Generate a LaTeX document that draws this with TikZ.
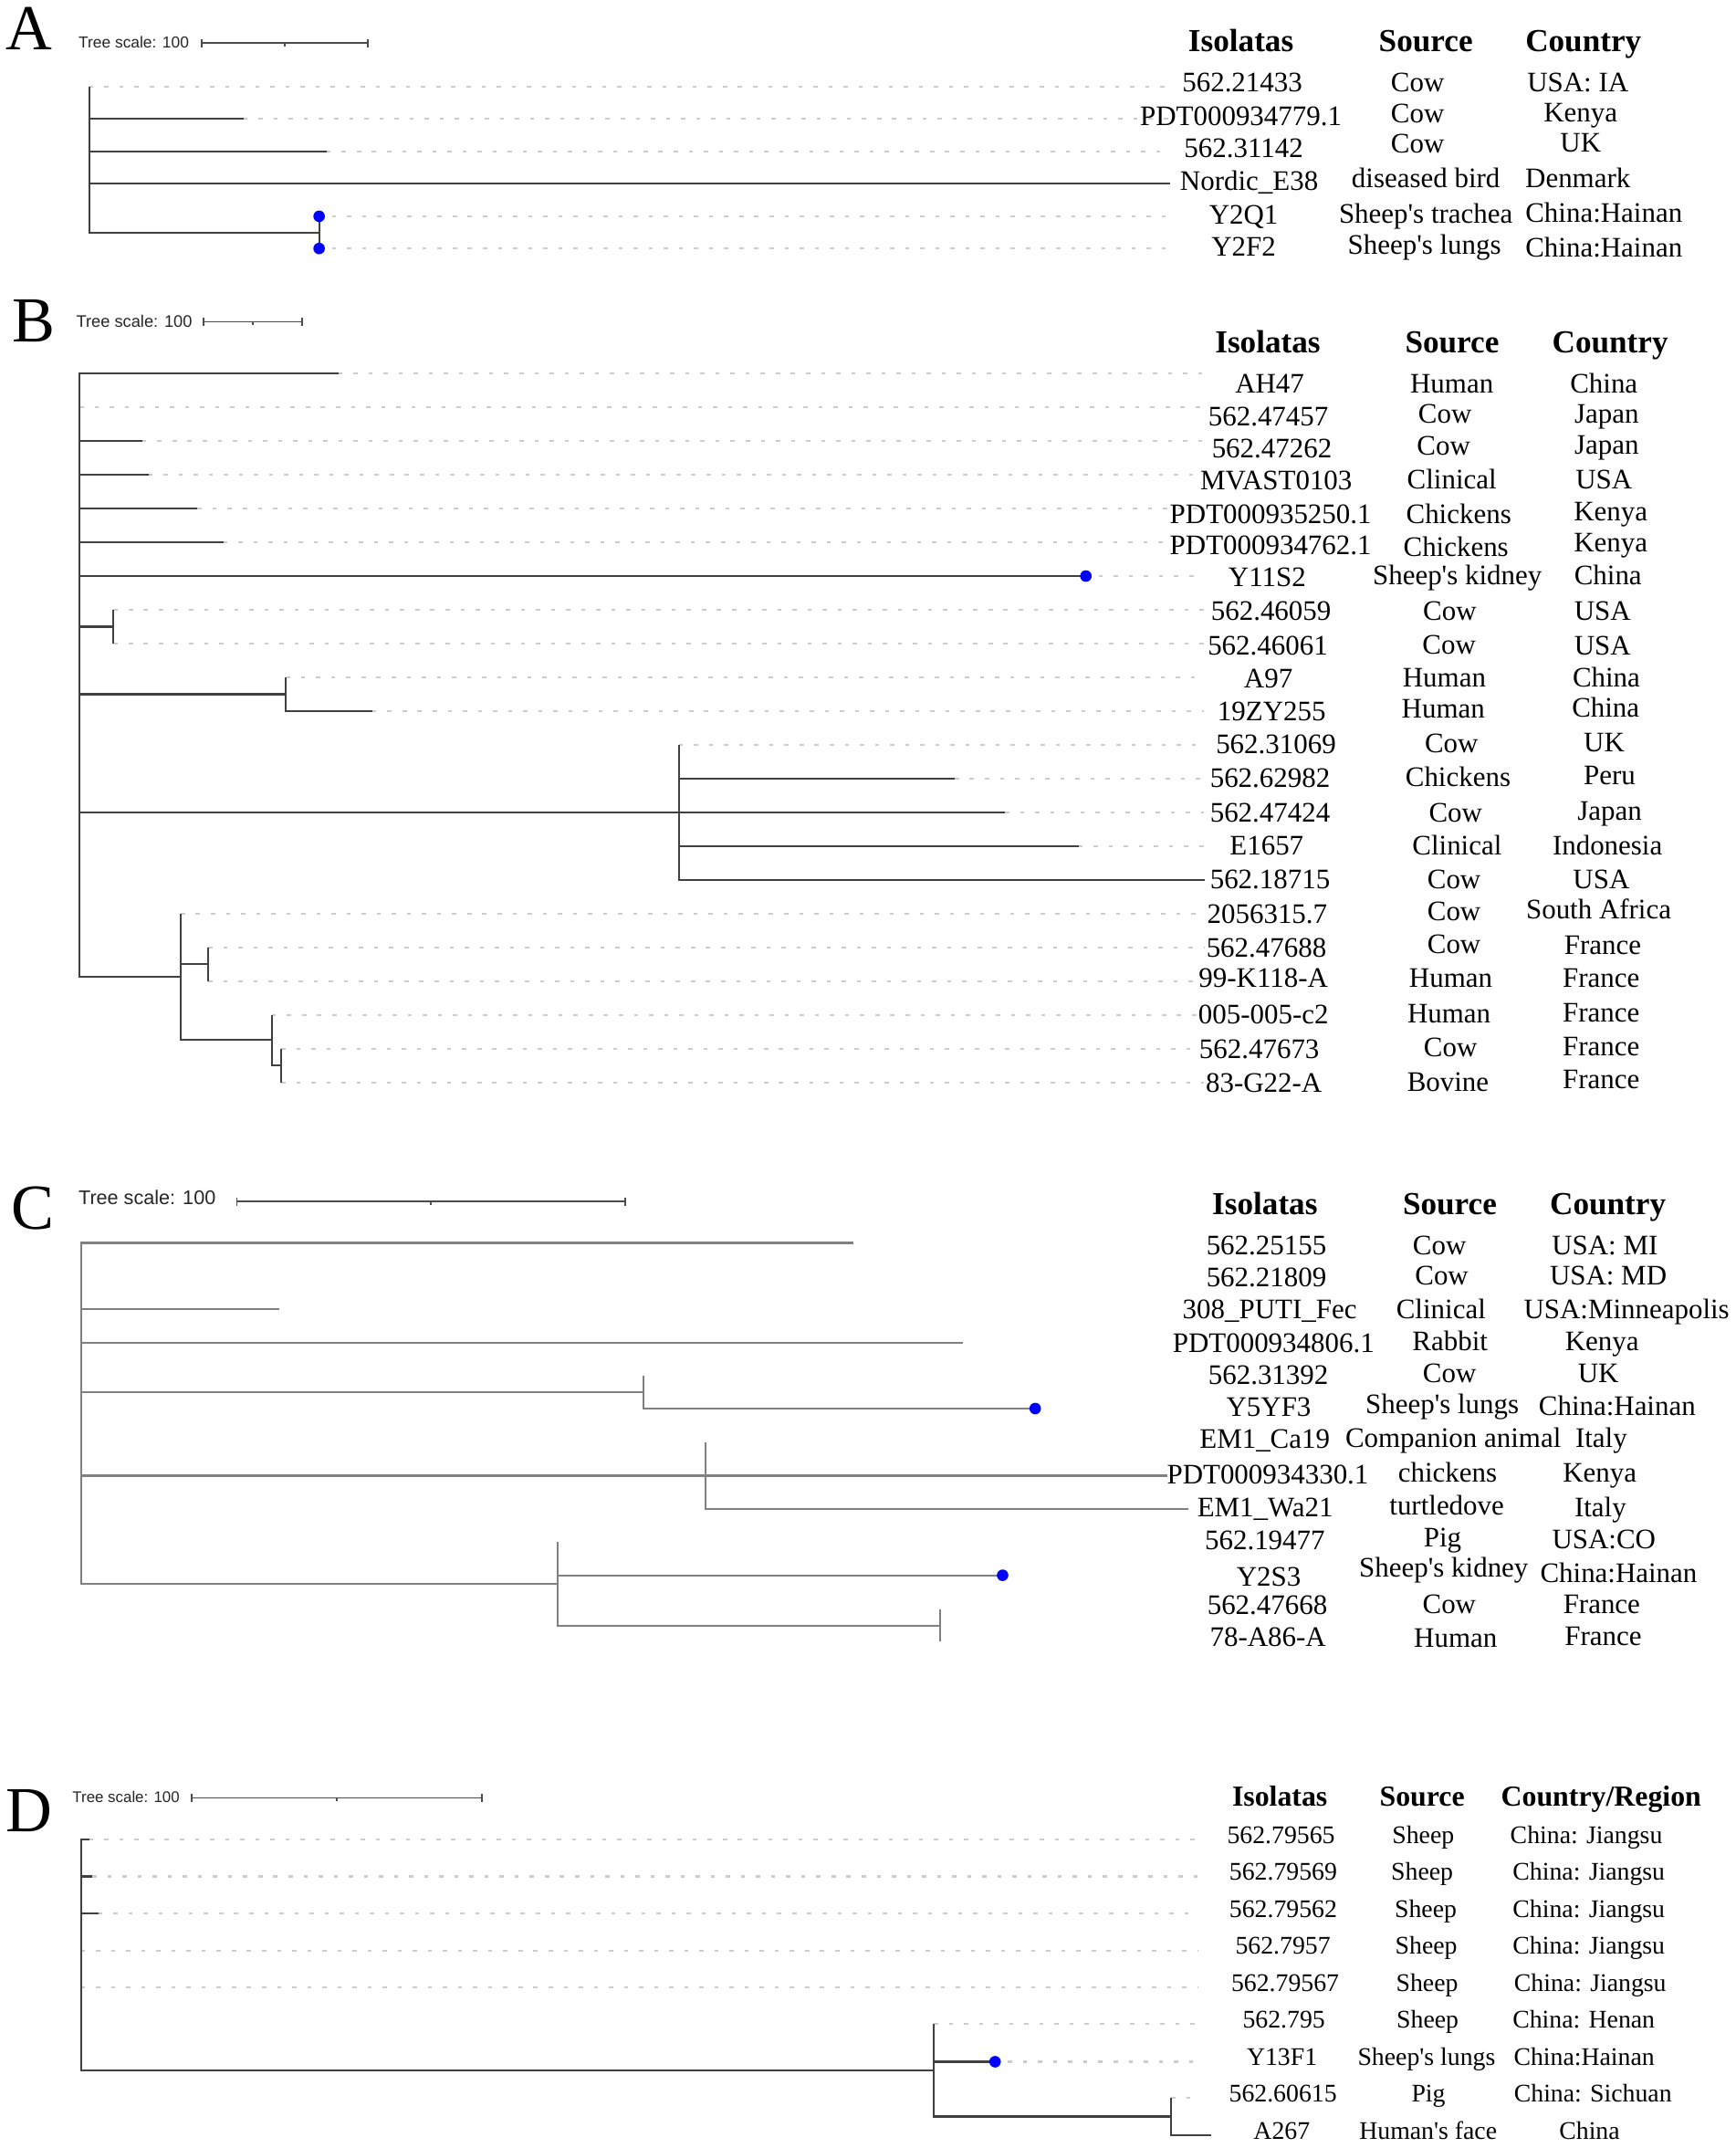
\documentclass[tikz,border=0pt]{standalone}
\usepackage{fontspec}
\setmainfont{Liberation Serif}
\newfontfamily\barfont{Liberation Sans}
\usetikzlibrary{arrows.meta}
\usetikzlibrary{calc}

\begin{document}
\begin{tikzpicture}[
  x=0.15mm, y=-0.15mm,
  branch/.style={draw=black!75, line width=0.6pt},
  palebranch/.style={draw=black!50, line width=0.6pt},
  guide/.style={draw=black!20, line width=0.6pt, dash pattern=on 1.3pt off 3.4pt},
  tipdot/.style={fill=blue},
  scalebar/.style={draw=black!70, line width=0.5pt, {Bar[width=2.6pt]}-{Bar[width=2.6pt]}},
  scaletick/.style={draw=black!70, line width=0.5pt},
  scaletxt/.style={font=\barfont\fontsize{#1}{#1}\selectfont, text=black!85, inner sep=0pt, anchor=west},
  panel/.style={font=\fontsize{20}{20}\selectfont, inner sep=0pt, anchor=base, yshift=-6.6pt},
  head/.style={font=\fontsize{10}{12}\selectfont\bfseries, inner sep=0pt, anchor=base, yshift=-3.4pt},
  headD/.style={font=\fontsize{9.05}{11}\selectfont\bfseries, inner sep=0pt, anchor=base, yshift=-3.05pt},
  lab/.style={font=\fontsize{8.8}{10}\selectfont, inner sep=0pt, anchor=base, yshift=-2.95pt},
  labD/.style={font=\fontsize{7.9}{9}\selectfont, inner sep=0pt, anchor=base, yshift=-2.65pt}
]
\path[fill=white] (0,0) rectangle (1267,1568);

% ---------------- Panel A
\node[panel] (letA) at (21,21.1) {A};
\node[scaletxt=4.95] (tsA) at (56.9,31.1) {Tree scale: 100};
\coordinate (sbA0) at (146.9,31.5);
\coordinate (sbA1) at (268.9,31.5);
\draw[scalebar] (sbA0) -- (sbA1);
\draw[scaletick] ($(sbA0)!0.5!(sbA1)$) -- ++(0,2.5);

\coordinate (rootA) at (65.2,116);
\coordinate (nodeA) at (233,169.7);
\coordinate (A1) at (65.2,63.3);
\coordinate (A2) at (177.8,86.6);
\coordinate (A3) at (238.5,110.4);
\coordinate (A4) at (854.2,134.1);
\coordinate (A5) at (233,157.9);
\coordinate (A6) at (233,181.4);
\coordinate (endA) at (854,0);
\draw[guide] (A1) -- (A1 -| endA) (A2) -- (A2 -| endA) (A3) -- (A3 -| endA);
\draw[guide] ([xshift=4pt]A5) -- (A5 -| endA) ([xshift=4pt]A6) -- (A6 -| endA);
\draw[branch] (rootA) |- (A1) (rootA) |- (A2) (rootA) |- (A3) (rootA) |- (A4) (rootA) |- (nodeA);
\draw[branch] (nodeA) |- (A5) (nodeA) |- (A6);
\fill[tipdot] (A5) circle (1.8pt) (A6) circle (1.8pt);

\node[head] (hIsoA) at (906,30) {Isolatas};
\node[head] (hSrcA) at (1041,30) {Source};
\node[head] (hCtyA) at (1156,30) {Country};
\node[lab] (isoA1) at (907,60) {562.21433}; \node[lab] (srcA1) at (1035,60) {Cow}; \node[lab] (ctyA1) at (1152,60) {USA: IA};
\node[lab] (isoA2) at (906,84.4) {PDT000934779.1}; \node[lab] (srcA2) at (1035,83) {Cow}; \node[lab] (ctyA2) at (1154,82) {Kenya};
\node[lab] (isoA3) at (908,108.2) {562.31142}; \node[lab] (srcA3) at (1035,105) {Cow}; \node[lab] (ctyA3) at (1154,104) {UK};
\node[lab] (isoA4) at (912,132.1) {Nordic\_E38}; \node[lab] (srcA4) at (1041,130) {diseased bird}; \node[lab] (ctyA4) at (1152,130) {Denmark};
\node[lab] (isoA5) at (908,156.6) {Y2Q1}; \node[lab] (srcA5) at (1041,156) {Sheep\textquotesingle s trachea}; \node[lab] (ctyA5) at (1171,155.5) {China:Hainan};
\node[lab] (isoA6) at (908,179.9) {Y2F2}; \node[lab] (srcA6) at (1040,179) {Sheep\textquotesingle s lungs}; \node[lab] (ctyA6) at (1171,181) {China:Hainan};

% ---------------- Panel B
\node[panel] (letB) at (24.3,234.3) {B};
\node[scaletxt=5.2] (tsB) at (55.2,234.4) {Tree scale: 100};
\coordinate (sbB0) at (148.1,234.9);
\coordinate (sbB1) at (221.0,234.9);
\draw[scalebar] (sbB0) -- (sbB1);
\draw[scaletick] ($(sbB0)!0.5!(sbB1)$) -- ++(0,2.5);

\coordinate (rootB) at (58,500);
\coordinate (B1) at (247.0,272.6);
\coordinate (B2) at (58.0,297.3);
\coordinate (B3) at (103.9,321.9);
\coordinate (B4) at (108.3,346.6);
\coordinate (B5) at (144.2,371.2);
\coordinate (B6) at (163.0,395.9);
\coordinate (B7) at (792.8,420.5);
\coordinate (nB1) at (82.9,457.5);
\coordinate (B8) at (82.9,445.2);
\coordinate (B9) at (82.9,469.8);
\coordinate (nB2) at (208.8,506.8);
\coordinate (B10) at (208.8,494.5);
\coordinate (B11) at (271.8,519.1);
\coordinate (nB3) at (495.6,593.1);
\coordinate (B12) at (495.6,543.8);
\coordinate (B13) at (697.0,568.4);
\coordinate (B14) at (733.7,593.1);
\coordinate (B15) at (787.5,617.7);
\coordinate (B16) at (879.3,642.4);
\coordinate (nB4) at (131.9,712.9);
\coordinate (B17) at (131.9,667.0);
\coordinate (nB5) at (152.0,703.6);
\coordinate (B18) at (152.0,691.7);
\coordinate (B19) at (152.0,716.3);
\coordinate (nB6) at (198.5,759.1);
\coordinate (B20) at (198.5,741.0);
\coordinate (nB7) at (205.3,777.8);
\coordinate (B21) at (205.3,765.6);
\coordinate (B22) at (205.3,790.3);
\coordinate (endB) at (879,0);
\draw[guide] (B1) -- (B1 -| endB) (B2) -- (B2 -| endB) (B3) -- (B3 -| endB) (B4) -- (B4 -| endB)
  (B5) -- (B5 -| endB) (B6) -- (B6 -| endB) ([xshift=4pt]B7) -- (B7 -| endB) (B8) -- (B8 -| endB)
  (B9) -- (B9 -| endB) (B10) -- (B10 -| endB) (B11) -- (B11 -| endB) (B12) -- (B12 -| endB)
  (B13) -- (B13 -| endB) (B14) -- (B14 -| endB) (B15) -- (B15 -| endB) (B17) -- (B17 -| endB)
  (B18) -- (B18 -| endB) (B19) -- (B19 -| endB) (B20) -- (B20 -| endB) (B21) -- (B21 -| endB)
  (B22) -- (B22 -| endB);
\draw[branch] (rootB) |- (B1) (rootB) |- (B2) (rootB) |- (B3) (rootB) |- (B4) (rootB) |- (B5)
  (rootB) |- (B6) (rootB) |- (B7) (rootB) |- (nB1) (rootB) |- (nB2) (rootB) |- (nB3) (rootB) |- (nB4);
\draw[branch] (nB1) |- (B8) (nB1) |- (B9) (nB2) |- (B10) (nB2) |- (B11);
\draw[branch] (nB3) |- (B12) (nB3) |- (B13) (nB3) |- (B14) (nB3) |- (B15) (nB3) |- (B16);
\draw[branch] (nB4) |- (B17) (nB4) |- (nB5) (nB4) |- (nB6) (nB5) |- (B18) (nB5) |- (B19);
\draw[branch] (nB6) |- (B20) (nB6) |- (nB7) (nB7) |- (B21) (nB7) |- (B22);
\fill[tipdot] (B7) circle (1.8pt);

\node[head] (hIsoB) at (925.6,249.7) {Isolatas};
\node[head] (hSrcB) at (1060.2,249.7) {Source};
\node[head] (hCtyB) at (1175.6,249.7) {Country};
\node[lab] (isoB1) at (927,280.0) {AH47}; \node[lab] (srcB1) at (1060,280.0) {Human}; \node[lab] (ctyB1) at (1171,280.0) {China};
\node[lab] (isoB2) at (926,303.7) {562.47457}; \node[lab] (srcB2) at (1055,302) {Cow}; \node[lab] (ctyB2) at (1173,302) {Japan};
\node[lab] (isoB3) at (928.6,327.2) {562.47262}; \node[lab] (srcB3) at (1054,325) {Cow}; \node[lab] (ctyB3) at (1173,324.5) {Japan};
\node[lab] (isoB4) at (931.8,350.9) {MVAST0103}; \node[lab] (srcB4) at (1060,350) {Clinical}; \node[lab] (ctyB4) at (1171,350) {USA};
\node[lab] (isoB5) at (927.7,375.1) {PDT000935250.1}; \node[lab] (srcB5) at (1065,375) {Chickens}; \node[lab] (ctyB5) at (1176,373.5) {Kenya};
\node[lab] (isoB6) at (927.7,398.1) {PDT000934762.1}; \node[lab] (srcB6) at (1063,399) {Chickens}; \node[lab] (ctyB6) at (1176,396) {Kenya};
\node[lab] (isoB7) at (925.2,421.5) {Y11S2}; \node[lab] (srcB7) at (1064,420) {Sheep\textquotesingle s kidney}; \node[lab] (ctyB7) at (1174,420) {China};
\node[lab] (isoB8) at (928,446.0) {562.46059}; \node[lab] (srcB8) at (1058.5,446) {Cow}; \node[lab] (ctyB8) at (1170,446) {USA};
\node[lab] (isoB9) at (925.6,471.5) {562.46061}; \node[lab] (srcB9) at (1058,470.5) {Cow}; \node[lab] (ctyB9) at (1170,471.5) {USA};
\node[lab] (isoB10) at (926,495.0) {A97}; \node[lab] (srcB10) at (1054.5,494.5) {Human}; \node[lab] (ctyB10) at (1172.8,494.5) {China};
\node[lab] (isoB11) at (928.4,519.2) {19ZY255}; \node[lab] (srcB11) at (1053.7,517.5) {Human}; \node[lab] (ctyB11) at (1172.3,516.5) {China};
\node[lab] (isoB12) at (931.6,543.4) {562.31069}; \node[lab] (srcB12) at (1059.7,542.5) {Cow}; \node[lab] (ctyB12) at (1171.2,542) {UK};
\node[lab] (isoB13) at (927.3,567.7) {562.62982}; \node[lab] (srcB13) at (1064.5,567) {Chickens}; \node[lab] (ctyB13) at (1175.2,566) {Peru};
\node[lab] (isoB14) at (927.3,593.2) {562.47424}; \node[lab] (srcB14) at (1062.7,593.2) {Cow}; \node[lab] (ctyB14) at (1175.2,591.5) {Japan};
\node[lab] (isoB15) at (924.8,617.4) {E1657}; \node[lab] (srcB15) at (1063.8,617) {Clinical}; \node[lab] (ctyB15) at (1173.6,617) {Indonesia};
\node[lab] (isoB16) at (927.3,641.8) {562.18715}; \node[lab] (srcB16) at (1061.6,641.5) {Cow}; \node[lab] (ctyB16) at (1169.1,641.5) {USA};
\node[lab] (isoB17) at (925.2,667.4) {2056315.7}; \node[lab] (srcB17) at (1061.6,665) {Cow}; \node[lab] (ctyB17) at (1167.2,663.5) {South Africa};
\node[lab] (isoB18) at (924.6,691.8) {562.47688}; \node[lab] (srcB18) at (1061.6,689) {Cow}; \node[lab] (ctyB18) at (1170.2,689.5) {France};
\node[lab] (isoB19) at (922.4,714.0) {99-K118-A}; \node[lab] (srcB19) at (1059.2,714) {Human}; \node[lab] (ctyB19) at (1169,713.5) {France};
\node[lab] (isoB20) at (922.4,740.6) {005-005-c2}; \node[lab] (srcB20) at (1057.9,740) {Human}; \node[lab] (ctyB20) at (1169,739) {France};
\node[lab] (isoB21) at (919.4,765.5) {562.47673}; \node[lab] (srcB21) at (1059,764.5) {Cow}; \node[lab] (ctyB21) at (1169,764) {France};
\node[lab] (isoB22) at (922.7,790.2) {83-G22-A}; \node[lab] (srcB22) at (1057.2,789.5) {Bovine}; \node[lab] (ctyB22) at (1169,788) {France};

% ---------------- Panel C
\node[panel] (letC) at (24,881.8) {C};
\node[scaletxt=6.15] (tsC) at (56.9,874.1) {Tree scale: 100};
\coordinate (sbC0) at (172.4,877.2);
\coordinate (sbC1) at (456.9,877.2);
\draw[scalebar] (sbC0) -- (sbC1);
\draw[scaletick] ($(sbC0)!0.5!(sbC1)$) -- ++(0,2.5);

\coordinate (rootC) at (59.1,1030);
\coordinate (C1) at (623.2,907.3);
\coordinate (C3) at (203.9,955.7);
\coordinate (C4) at (702.8,980.0);
\coordinate (nC1) at (469.6,1016.5);
\coordinate (C5) at (469.6,1004.3);
\coordinate (C6) at (755.8,1028.2);
\coordinate (nC2) at (514.9,1077.2);
\coordinate (C7) at (514.9,1052.9);
\coordinate (C8) at (852.2,1077.2);
\coordinate (C9) at (867.4,1101.5);
\coordinate (nC3) at (407.2,1156.2);
\coordinate (C10) at (407.2,1125.4);
\coordinate (C11) at (732.0,1149.9);
\coordinate (nC4) at (686.2,1186.6);
\coordinate (C12) at (686.2,1174.5);
\coordinate (C13) at (686.2,1198.3);
\draw[palebranch] (rootC) |- (C1) (rootC) |- (C3) (rootC) |- (C4) (rootC) |- (nC1) (rootC) |- (nC2) (rootC) |- (nC3);
\draw[palebranch] (nC1) |- (C5) (nC1) |- (C6) (nC2) |- (C7) (nC2) |- (C8) (nC2) |- (C9);
\draw[palebranch] (nC3) |- (C10) (nC3) |- (C11) (nC3) |- (nC4) (nC4) |- (C12) (nC4) |- (C13);
\fill[tipdot] (C6) circle (1.8pt) (C11) circle (1.8pt);

\node[head] (hIsoC) at (923.5,878.5) {Isolatas};
\node[head] (hSrcC) at (1058.5,878.5) {Source};
\node[head] (hCtyC) at (1173.9,878.5) {Country};
\node[lab] (isoC1) at (924.6,908.9) {562.25155}; \node[lab] (srcC1) at (1051,908.9) {Cow}; \node[lab] (ctyC1) at (1171.7,908.9) {USA: MI};
\node[lab] (isoC2) at (924.6,932.3) {562.21809}; \node[lab] (srcC2) at (1052.6,931) {Cow}; \node[lab] (ctyC2) at (1174.2,931) {USA: MD};
\node[lab] (isoC3) at (927,955.6) {308\_PUTI\_Fec}; \node[lab] (srcC3) at (1052.1,955.6) {Clinical}; \node[lab] (ctyC3) at (1187.6,955.6) {USA:Minneapolis};
\node[lab] (isoC4) at (929.8,980.2) {PDT000934806.1}; \node[lab] (srcC4) at (1058.7,979) {Rabbit}; \node[lab] (ctyC4) at (1169.6,979) {Kenya};
\node[lab] (isoC5) at (926,1003.5) {562.31392}; \node[lab] (srcC5) at (1058.3,1002) {Cow}; \node[lab] (ctyC5) at (1166.9,1002) {UK};
\node[lab] (isoC6) at (926.3,1026.9) {Y5YF3}; \node[lab] (srcC6) at (1053,1025) {Sheep\textquotesingle s lungs}; \node[lab] (ctyC6) at (1180.7,1026) {China:Hainan};
\node[lab] (isoC7) at (923.4,1050.3) {EM1\_Ca19}; \node[lab] (srcC7) at (1061,1049.5) {Companion animal}; \node[lab] (ctyC7) at (1169.1,1049.5) {Italy};
\node[lab] (isoC8) at (925.6,1076) {PDT000934330.1}; \node[lab] (srcC8) at (1056.9,1075) {chickens}; \node[lab] (ctyC8) at (1168,1075) {Kenya};
\node[lab] (isoC9) at (923.7,1100.5) {EM1\_Wa21}; \node[lab] (srcC9) at (1056.3,1099) {turtledove}; \node[lab] (ctyC9) at (1168.4,1100) {Italy};
\node[lab] (isoC10) at (923.5,1124.4) {562.19477}; \node[lab] (srcC10) at (1053.2,1122) {Pig}; \node[lab] (ctyC10) at (1171,1123.5) {USA:CO};
\node[lab] (isoC11) at (926.3,1150.8) {Y2S3}; \node[lab] (srcC11) at (1054.1,1144) {Sheep\textquotesingle s kidney}; \node[lab] (ctyC11) at (1181.8,1148) {China:Hainan};
\node[lab] (isoC12) at (925.3,1171.8) {562.47668}; \node[lab] (srcC12) at (1058.1,1171) {Cow}; \node[lab] (ctyC12) at (1169.4,1171) {France};
\node[lab] (isoC13) at (925.7,1195.2) {78-A86-A}; \node[lab] (srcC13) at (1062.7,1195.5) {Human}; \node[lab] (ctyC13) at (1170.5,1194) {France};

% ---------------- Panel D
\node[panel] (letD) at (21.5,1321.5) {D};
\node[scaletxt=4.8] (tsD) at (52.5,1312) {Tree scale: 100};
\coordinate (sbD0) at (139.2,1312.4);
\coordinate (sbD1) at (352.5,1312.4);
\draw[scalebar] (sbD0) -- (sbD1);
\draw[scaletick] ($(sbD0)!0.5!(sbD1)$) -- ++(0,2.5);

\coordinate (rootD) at (59.1,1420);
\coordinate (D1) at (65.2,1342.8);
\coordinate (D2) at (67.4,1369.7);
\coordinate (D3) at (71.8,1396.8);
\coordinate (D4) at (59.1,1423.9);
\coordinate (D5) at (59.1,1450.8);
\coordinate (nD1) at (681.8,1511.2);
\coordinate (D6) at (681.8,1477.4);
\coordinate (D7) at (726.5,1505.0);
\coordinate (nD2) at (855.2,1545.0);
\coordinate (D8) at (855.2,1531.6);
\coordinate (D9) at (884,1558.5);
\coordinate (endD) at (875,0);
\draw[guide] (D1) -- (D1 -| endD) (D2) -- (D2 -| endD) (D3) -- (D3 -| endD) (D4) -- (D4 -| endD)
  (D5) -- (D5 -| endD) (D6) -- (D6 -| endD) ([xshift=4pt]D7) -- (D7 -| endD) (D8) -- (D8 -| endD);
\draw[branch] (rootD) |- (D1) (rootD) |- (D2) (rootD) |- (D3) (rootD) |- (D4) (rootD) |- (D5) (rootD) |- (nD1);
\draw[branch] (nD1) |- (D6) (nD1) |- (D7) (nD1) |- (nD2) (nD2) |- (D8) (nD2) |- (D9);
\fill[tipdot] (D7) circle (1.8pt);

\node[headD] (hIsoD) at (934.4,1311.3) {Isolatas};
\node[headD] (hSrcD) at (1038.3,1311.3) {Source};
\node[headD] (hCtyD) at (1169,1311.3) {Country/Region};
\node[labD] (isoD1) at (935.3,1339.5) {562.79565}; \node[labD] (srcD1) at (1039.1,1339.5) {Sheep}; \node[labD] (ctyD1) at (1158.2,1339.5) {China: Jiangsu};
\node[labD] (isoD2) at (936.9,1366.2) {562.79569}; \node[labD] (srcD2) at (1038.3,1366.2) {Sheep}; \node[labD] (ctyD2) at (1160,1366.2) {China: Jiangsu};
\node[labD] (isoD3) at (936.9,1393.5) {562.79562}; \node[labD] (srcD3) at (1040.9,1393.5) {Sheep}; \node[labD] (ctyD3) at (1160,1393.5) {China: Jiangsu};
\node[labD] (isoD4) at (936.7,1420.1) {562.7957}; \node[labD] (srcD4) at (1041.3,1420.1) {Sheep}; \node[labD] (ctyD4) at (1160,1420.1) {China: Jiangsu};
\node[labD] (isoD5) at (938.3,1447.2) {562.79567}; \node[labD] (srcD5) at (1041.9,1447.2) {Sheep}; \node[labD] (ctyD5) at (1161,1447.2) {China: Jiangsu};
\node[labD] (isoD6) at (937.4,1473.9) {562.795}; \node[labD] (srcD6) at (1042.3,1473.9) {Sheep}; \node[labD] (ctyD6) at (1156.3,1473.9) {China: Henan};
\node[labD] (isoD7) at (936,1501.2) {Y13F1}; \node[labD] (srcD7) at (1041.5,1501.2) {Sheep\textquotesingle s lungs}; \node[labD] (ctyD7) at (1156.6,1501.2) {China:Hainan};
\node[labD] (isoD8) at (936.7,1528.3) {562.60615}; \node[labD] (srcD8) at (1042.9,1528.3) {Pig}; \node[labD] (ctyD8) at (1163,1528.3) {China: Sichuan};
\node[labD] (isoD9) at (935.8,1555.6) {A267}; \node[labD] (srcD9) at (1042.7,1555.6) {Human\textquotesingle s face}; \node[labD] (ctyD9) at (1160.5,1555.6) {China};
\end{tikzpicture}
\end{document}
